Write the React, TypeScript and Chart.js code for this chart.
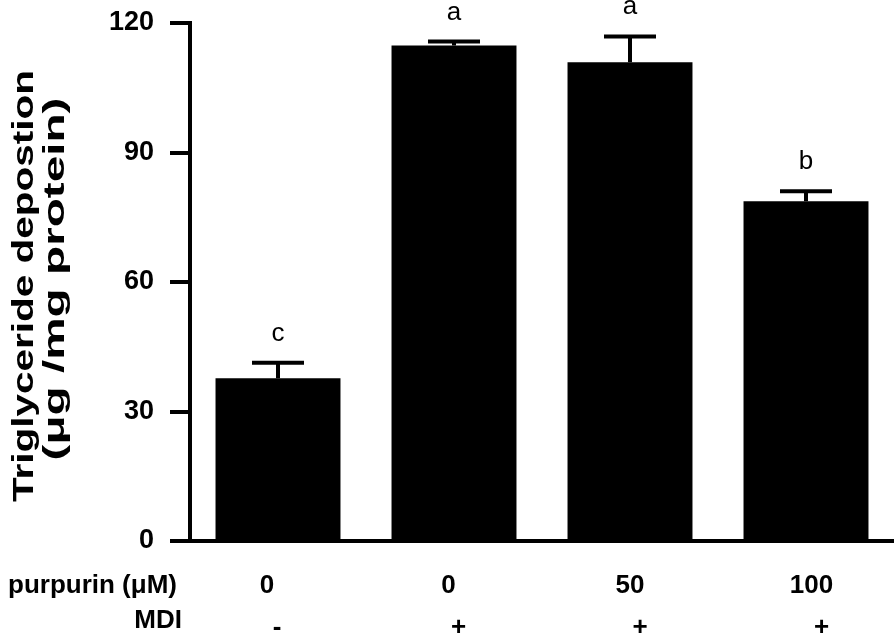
import { useEffect, useRef } from 'react';
import { Chart, registerables } from 'chart.js';

Chart.register(...registerables);

// ---- data ----
const categories = ['Control', 'MDI', 'MDI + purpurin 50', 'MDI + purpurin 100'];
const means = [37.7, 114.8, 110.9, 78.7];
const sems = [3.6, 0.9, 6.0, 2.3];
const sigLetters = ['c', 'a', 'a', 'b'];
const purpurinLabels = ['0', '0', '50', '100'];
const mdiLabels = ['-', '+', '+', '+'];
const rowNames = ['purpurin (\u03bcM)', 'MDI'];
const yTicks = [0, 30, 60, 90, 120];
const yTitleLines = ['Triglyceride depostion', '(\u03bcg /mg protein)'];

const FONT = "Arial, 'Liberation Sans', Helvetica, sans-serif";

export default function App() {
  const ref = useRef<HTMLCanvasElement>(null);

  useEffect(() => {
    const canvas = ref.current;
    if (!canvas) return;

    const overlay = {
      id: 'overlay',
      afterDatasetsDraw(chart: any) {
        const ctx = chart.ctx;
        const xs = chart.scales.x;
        const ys = chart.scales.y;
        ctx.save();
        ctx.strokeStyle = '#000';
        ctx.fillStyle = '#000';
        ctx.lineWidth = 4;
        ctx.lineCap = 'butt';
        means.forEach((m, i) => {
          const cx = xs.getPixelForValue(i);
          const yTop = ys.getPixelForValue(m);
          const yErr = ys.getPixelForValue(m + sems[i]);
          ctx.beginPath();
          ctx.moveTo(cx, yTop);
          ctx.lineTo(cx, yErr);
          ctx.moveTo(cx - 26, yErr);
          ctx.lineTo(cx + 26, yErr);
          ctx.stroke();
          ctx.font = `26px ${FONT}`;
          ctx.textAlign = 'center';
          ctx.textBaseline = 'alphabetic';
          ctx.fillText(sigLetters[i], cx, yErr - 22);
        });
        ctx.restore();
      },
      afterDraw(chart: any) {
        const ctx = chart.ctx;
        const xs = chart.scales.x;
        const area = chart.chartArea;
        ctx.save();
        ctx.fillStyle = '#000';
        // bottom rows
        const row1Y = area.bottom + 45;
        const row2Y = area.bottom + 82;
        ctx.font = `bold 26px ${FONT}`;
        ctx.textBaseline = 'middle';
        ctx.textAlign = 'right';
        ctx.fillText(rowNames[0], xs.left - 13, row1Y);
        ctx.fillText(rowNames[1], xs.left - 8, row2Y - 2);
        ctx.textAlign = 'center';
        purpurinLabels.forEach((lab, i) => {
          const cx = xs.getPixelForValue(i) - 11 + 5.5 * i;
          ctx.fillText(lab, cx, row1Y);
        });
        mdiLabels.forEach((lab, i) => {
          const cx = xs.getPixelForValue(i) - 1 + 5.5 * i;
          ctx.fillText(lab, cx, row2Y + 5);
        });
        // y title (rotated, two lines)
        const midY = (area.top + area.bottom) / 2;
        const specs = [
          { text: yTitleLines[0], x: 33, cy: midY + 4, len: 432 },
          { text: yTitleLines[1], x: 64, cy: midY - 3, len: 363 },
        ];
        ctx.font = `bold 29px ${FONT}`;
        ctx.textAlign = 'center';
        ctx.textBaseline = 'alphabetic';
        specs.forEach((s) => {
          const w = ctx.measureText(s.text).width;
          ctx.save();
          ctx.translate(s.x, s.cy);
          ctx.rotate(-Math.PI / 2);
          ctx.scale(s.len / w, 1);
          ctx.fillText(s.text, 0, 0);
          ctx.restore();
        });
        ctx.restore();
      },
    };

    const chart = new Chart(canvas, {
      type: 'bar',
      data: {
        labels: categories,
        datasets: [
          {
            data: means,
            backgroundColor: '#000',
            borderWidth: 0,
            barPercentage: 0.71,
            categoryPercentage: 1,
          },
        ],
      },
      options: {
        responsive: false,
        animation: false,
        layout: { padding: { top: 23, right: 0, left: 0, bottom: 0 } },
        plugins: {
          legend: { display: false },
          tooltip: { enabled: false },
          title: { display: false },
        },
        scales: {
          x: {
            type: 'category',
            offset: true,
            grid: { display: false },
            border: { display: true, width: 4, color: '#000' },
            ticks: { display: false },
            afterFit(scale: any) {
              scale.height = 95;
            },
          },
          y: {
            min: 0,
            max: 120,
            afterBuildTicks(scale: any) {
              scale.ticks = yTicks.map((v) => ({ value: v }));
            },
            grid: {
              display: true,
              drawOnChartArea: false,
              drawTicks: true,
              tickLength: 20,
              tickWidth: 4,
              tickColor: '#000',
              color: '#000',
              lineWidth: 4,
            },
            border: { display: true, width: 4, color: '#000' },
            ticks: {
              color: '#000',
              padding: 16,
              font: { family: FONT, size: 27, weight: 'bold' },
            },
            afterFit(scale: any) {
              scale.width = 190;
              scale.paddingTop = 0;
              scale.paddingBottom = 0;
            },
          },
        },
      },
      plugins: [overlay],
    });

    return () => chart.destroy();
  }, []);

  return (
    <div style={{ position: 'absolute', left: 0, top: 0, width: 894, height: 636, background: '#fff' }}>
      <canvas ref={ref} width={894} height={636} style={{ display: 'block' }} />
    </div>
  );
}
